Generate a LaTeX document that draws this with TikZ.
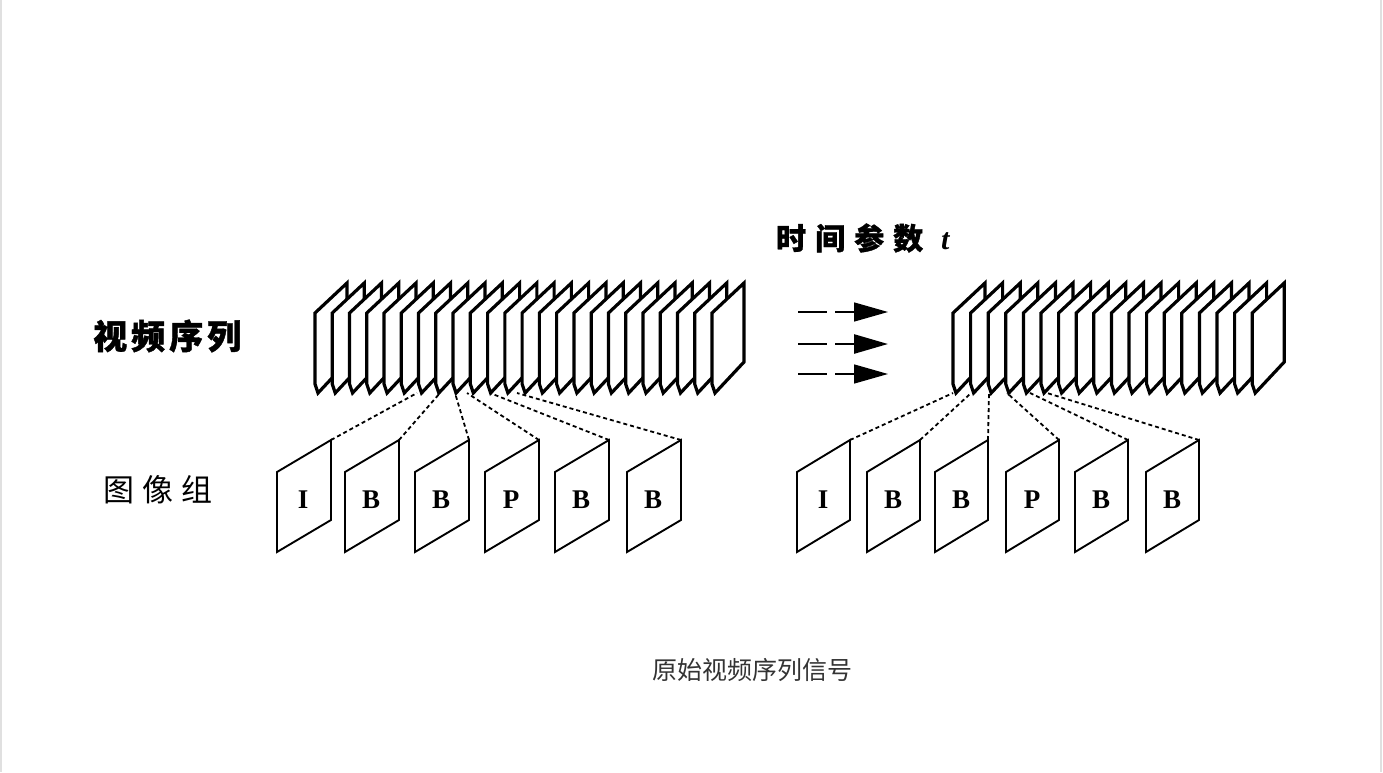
\documentclass[tikz,border=0pt]{standalone}
\usepackage{fontspec}
\setmainfont{Liberation Serif}
\newfontfamily\cjk{Noto Sans CJK SC}[BoldFeatures={FakeBold=1.2}]
\usetikzlibrary{arrows.meta}
\begin{document}
\begin{tikzpicture}[x=1pt,y=-1pt,
  stackframe/.style={draw=black,fill=white,line width=3.2pt,line join=miter},
  gopframe/.style={draw=black,line width=1.9pt,line join=miter},
  link/.style={draw=black,line width=1.8pt,dash pattern=on 4pt off 3pt},
  tarrow/.style={draw=black,dash pattern=on 29pt off 8pt on 60pt,-{Triangle[length=34pt,width=19pt]}},
  letter/.style={font=\bfseries\fontsize{27}{27}\selectfont,inner sep=0pt},
  bigcjk/.style={inner sep=0pt,anchor=west},
]
\useasboundingbox (0,0) rectangle (1383,772);
\draw[black!12,line width=1.5pt] (1,0) -- (1,772);
\draw[black!12,line width=1.5pt] (1381,0) -- (1381,772);

% left stack
\foreach \i in {0,...,23}{
  \pgfmathsetmacro\xx{315+\i*17.26}
  \draw[stackframe] (\xx,384) -- (\xx,313) -- (\xx+32,283) -- (\xx+32,362) -- (\xx+3,393) -- cycle;
}
% right stack
\foreach \i in {0,...,17}{
  \pgfmathsetmacro\xx{953+\i*17.6}
  \draw[stackframe] (\xx,384) -- (\xx,313) -- (\xx+32,283) -- (\xx+32,362) -- (\xx+3,393) -- cycle;
}

% stack anchor points
\coordinate (sL1) at (417,393);
\coordinate (sL2) at (440,393);
\coordinate (sL3) at (455,393);
\coordinate (sL4) at (467,393);
\coordinate (sL5) at (490,393);
\coordinate (sL6) at (517,393);
\coordinate (sR1) at (953,393);
\coordinate (sR2) at (970,394);
\coordinate (sR3) at (989,393);
\coordinate (sR4) at (1007,393);
\coordinate (sR5) at (1030,393);
\coordinate (sR6) at (1047,393);

% GOP frames left
\foreach \x/\t/\n in {277/I/1,345/B/2,415/B/3,485/P/4,555/B/5,627/B/6}{
  \draw[gopframe] (\x,552) -- (\x,472) -- (\x+54,440) -- (\x+54,520) -- cycle;
  \coordinate (gL\n) at (\x+54,440);
  \node[letter] (tL\n) at (\x+26,500) {\t};
}
% GOP frames right
\foreach \x/\t/\n in {797/I/1,867/B/2,935/B/3,1006/P/4,1075/B/5,1146/B/6}{
  \draw[gopframe] (\x,552) -- (\x,472) -- (\x+53,440) -- (\x+53,520) -- cycle;
  \coordinate (gR\n) at (\x+53,440);
  \node[letter] (tR\n) at (\x+26,500) {\t};
}

% dotted links
\foreach \n in {1,...,6}{
  \draw[link] (gL\n) -- (sL\n);
  \draw[link] (gR\n) -- (sR\n);
}

% time arrows
\coordinate (a1s) at (798,312); \coordinate (a1e) at (888,312);
\coordinate (a2s) at (798,344); \coordinate (a2e) at (888,344);
\coordinate (a3s) at (798,374); \coordinate (a3e) at (888,374);
\draw[tarrow,line width=1.4pt] (a1s) -- (a1e);
\draw[tarrow,line width=2.6pt] (a2s) -- (a2e);
\draw[tarrow,line width=1.4pt] (a3s) -- (a3e);

% texts
\node[bigcjk] (title) at (776,238) {\cjk\bfseries\fontsize{30}{30}\selectfont 时\hspace{9pt}间\hspace{9pt}参\hspace{9pt}数\hspace{18pt}{\rmfamily\bfseries\itshape t}};
\node[bigcjk] (seq) at (93,336) {\cjk\bfseries\fontsize{34}{34}\selectfont 视\hspace{4pt}频\hspace{4pt}序\hspace{4pt}列};
\node[bigcjk] (gop) at (103,490) {\cjk\fontsize{31}{31}\selectfont 图\hspace{8pt}像\hspace{8pt}组};
\node[inner sep=0pt,text=black!80] (cap) at (752,670) {\cjk\fontsize{25}{25}\selectfont 原始视频序列信号};
\end{tikzpicture}
\end{document}
